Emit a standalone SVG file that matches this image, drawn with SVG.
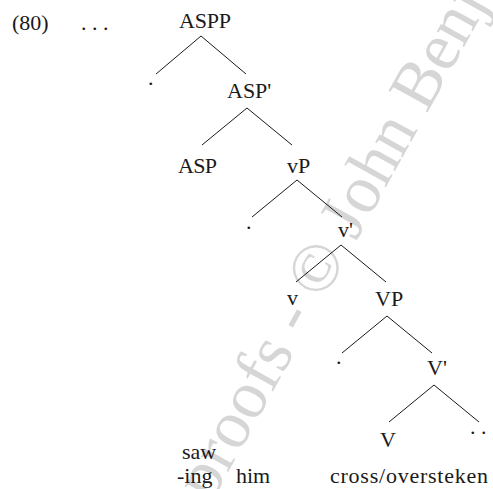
<svg xmlns="http://www.w3.org/2000/svg" width="493" height="489" viewBox="0 0 493 489" font-family="'Liberation Serif', 'DejaVu Serif', serif">
<style>
text{font-family:'Liberation Serif','DejaVu Serif',serif;font-size:22px;fill:#1a1a1a}
.wm{font-size:68px;fill:#d6d6d6}
.edge{stroke:#1a1a1a;stroke-width:1;fill:none}
</style>
<rect width="493" height="489" fill="#fff"/>
<text id="watermark" class="wm" x="211" y="503" transform="rotate(-61 211 503)">proofs - © John Benjamins</text>
<g id="label">
<text x="12" y="30">(80)</text>
<text x="81" y="30">. . .</text>
</g>
<g id="connectors">
<path class="edge" d="M201 36L156 74M201 36L246 74"/>
<path class="edge" d="M247 108L202 145M247 108L292 145"/>
<path class="edge" d="M297 180L252 217M297 180L342 217"/>
<path class="edge" d="M341 245L296 282M341 245L386 282"/>
<path class="edge" d="M387 316L342 353M387 316L432 353"/>
<path class="edge" d="M434 385L389 422M434 385L479 422"/>
</g>
<g id="n-ASPP"><text x="179" y="28" textLength="52">ASPP</text></g>
<g id="n-spec1"><text x="148" y="85">.</text></g>
<g id="n-ASPbar"><text x="227" y="98">ASP'</text></g>
<g id="n-ASP"><text x="178" y="173" textLength="39">ASP</text></g>
<g id="n-vP"><text x="287" y="173">vP</text></g>
<g id="n-spec2"><text x="246" y="229">.</text></g>
<g id="n-vbar"><text x="338" y="237">v'</text></g>
<g id="n-v"><text x="287" y="305">v</text></g>
<g id="n-VP"><text x="375" y="306">VP</text></g>
<g id="n-spec3"><text x="336" y="364">.</text></g>
<g id="n-Vbar"><text x="427" y="375">V'</text></g>
<g id="n-V"><text x="380" y="447">V</text></g>
<g id="n-dots"><text x="470" y="434">. . .</text></g>
<g id="n-saw"><text x="182" y="459">saw</text></g>
<g id="n-ing"><text x="177" y="483">-ing</text></g>
<g id="n-him"><text x="236" y="483">him</text></g>
<g id="n-cross"><text x="330" y="483" textLength="158">cross/oversteken</text></g>
</svg>
